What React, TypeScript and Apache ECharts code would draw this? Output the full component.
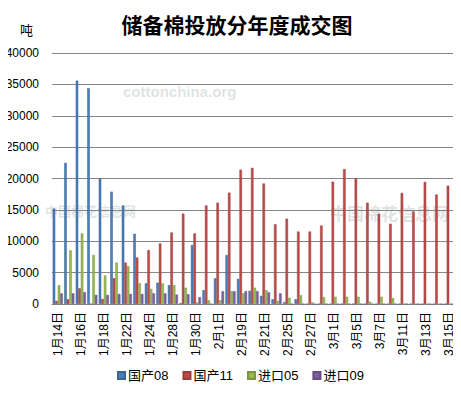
import React, { useEffect, useRef } from "react";
import * as echarts from "echarts";

const categories = [
  "1月14日", "1月15日", "1月16日", "1月17日", "1月18日", "1月21日", "1月22日", "1月23日", "1月24日", "1月25日",
  "1月28日", "1月29日", "1月30日", "1月31日", "2月1日", "2月18日", "2月19日", "2月20日", "2月21日", "2月22日",
  "2月25日", "2月26日", "2月27日", "2月28日", "3月1日", "3月4日", "3月5日", "3月6日", "3月7日", "3月8日",
  "3月11日", "3月12日", "3月13日", "3月14日", "3月15日",
];

const guochan08 = [
  15200, 22500, 35600, 34400, 20000, 17900, 15700, 11200, 3300, 3400,
  3000, 150, 9400, 2200, 4100, 7800, 4000, 2100, 1300, 750,
  300, 750, 0, 0, 0, 0, 0, 0, 0, 0,
  0, 0, 0, 0, 0,
];

const guochan11 = [
  500, 750, 2500, 0, 800, 4100, 6600, 7400, 8600, 9650,
  11400, 14400, 11250, 15700, 16150, 17750, 21400, 21700, 19200, 12700,
  13600, 11550, 11550, 12500, 19500, 21500, 20050, 16150, 14400, 12800,
  17700, 14750, 19450, 17450, 18850,
];

const jinkou05 = [
  3000, 8550, 11250, 7800, 4550, 6600, 6000, 3300, 2400, 3300,
  3000, 2600, 250, 600, 600, 2050, 1700, 2600, 2200, 500,
  1000, 1400, 270, 1100, 1150, 1150, 1150, 350, 1150, 950,
  0, 0, 0, 0, 0,
];

const jinkou09 = [
  1700, 1700, 1900, 1450, 1450, 1600, 1600, 1600, 1700, 1700,
  1500, 1550, 1100, 0, 2050, 2050, 2050, 2050, 1850, 1700,
  0, 0, 0, 0, 0, 0, 0, 0, 0, 0,
  0, 0, 0, 0, 0,
];

const seriesNames = ["国产08", "国产11", "进口05", "进口09"];
const seriesColors = ["#4A7EBB", "#BE4B48", "#98B954", "#7D60A0"];
const borderColors = ["#3B6597", "#983C3A", "#7A9443", "#644D80"];

const FONT = "'Liberation Sans', 'Noto Sans CJK SC', sans-serif";

export default function App() {
  const ref = useRef<HTMLDivElement>(null);

  useEffect(() => {
    if (!ref.current) return;
    const chart = echarts.init(ref.current, undefined, { renderer: "svg" });
    const data = [guochan08, guochan11, jinkou05, jinkou09];
    const wmColor = "rgba(160,175,170,0.35)";
    chart.setOption({
      animation: false,
      backgroundColor: "#ffffff",
      title: {
        text: "储备棉投放分年度成交图",
        left: 232,
        top: 8,
        textAlign: "center",
        textStyle: {
          fontFamily: "'Noto Sans CJK SC', sans-serif",
          fontSize: 21,
          fontWeight: "bold",
          color: "#000000",
        },
      },
      graphic: [
        { type: "text", left: 20, top: 23, z: 10, style: { text: "吨", font: "13px 'Noto Sans CJK SC'", fill: "#000" } },
        { type: "text", left: 123, top: 84, z: -1, silent: true, style: { text: "cottonchina.org", font: "bold 15px 'Liberation Sans'", fill: wmColor } },
        { type: "text", left: 45, top: 204, z: -1, silent: true, style: { text: "中国棉花信息网", font: "bold 13px 'Noto Sans CJK SC'", fill: wmColor } },
        { type: "text", left: 330, top: 204, z: -1, silent: true, style: { text: "中国棉花信息网", font: "bold 17px 'Noto Sans CJK SC'", fill: wmColor } },
      ],
      legend: {
        bottom: 8,
        left: 112,
        itemWidth: 7,
        itemHeight: 7,
        itemGap: 14,
        icon: "rect",
        textStyle: { fontFamily: FONT, fontSize: 13, color: "#000", padding: [0, 0, 0, -2] },
        data: seriesNames,
      },
      grid: { left: 52, right: 6, top: 53, bottom: 91 },
      xAxis: {
        type: "category",
        data: categories,
        axisTick: { show: false },
        axisLine: { lineStyle: { color: "#868686" } },
        axisLabel: {
          interval: 1,
          rotate: 90,
          fontFamily: FONT,
          fontSize: 12,
          color: "#000",
          margin: 8,
        },
      },
      yAxis: {
        type: "value",
        min: 0,
        max: 40000,
        interval: 5000,
        axisLine: { show: false },
        axisTick: { show: false },
        splitLine: { lineStyle: { color: "#868686", width: 1 } },
        axisLabel: {
          fontFamily: FONT,
          fontSize: 12,
          color: "#000",
          margin: 13,
          formatter: (v: number) => String(v),
        },
      },
      series: seriesNames.map((name, i) => ({
        name,
        type: "bar",
        data: data[i],
        barGap: "0%",
        barCategoryGap: "12%",
        itemStyle: { color: seriesColors[i], borderColor: borderColors[i], borderWidth: 0.5 },
      })),
    });
    return () => chart.dispose();
  }, []);

  return <div ref={ref} style={{ width: 461, height: 395, margin: -8 }} />;
}
